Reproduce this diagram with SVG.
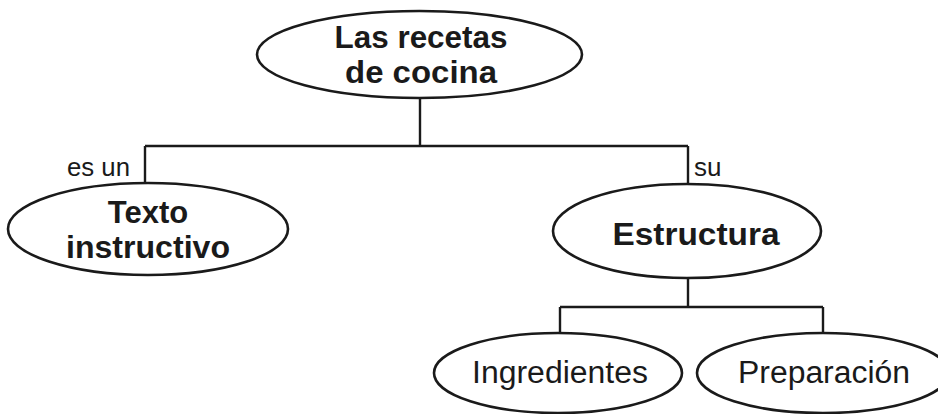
<svg xmlns="http://www.w3.org/2000/svg" width="938" height="414" viewBox="0 0 938 414">
<style>
.n{fill:#fff;stroke:#1a1a1a;stroke-width:2.6}
.c{fill:none;stroke:#1a1a1a;stroke-width:2.4}
.b{font-family:"Liberation Sans",Arial,sans-serif;font-weight:bold;font-size:31px;fill:#1a1a1a;text-anchor:middle}
.r{font-family:"Liberation Sans",Arial,sans-serif;font-size:31px;fill:#1a1a1a;text-anchor:middle}
.l{font-family:"Liberation Sans",Arial,sans-serif;font-size:26px;fill:#1a1a1a}
</style>
<rect width="938" height="414" fill="#fff"/>
<g id="connectors">
<path class="c" d="M420 98V146M145 146H688M145 146V184M688 146V184M688 277V307M560 307H823M560 307V334M823 307V334"/>
<text class="l" x="67" y="176" textLength="63" lengthAdjust="spacingAndGlyphs">es un</text>
<text class="l" x="694" y="176">su</text>
</g>
<g id="n-recetas">
<ellipse class="n" cx="419.5" cy="54.5" rx="162.5" ry="43.5"/>
<text class="b" x="421" y="48" textLength="173" lengthAdjust="spacingAndGlyphs">Las recetas</text>
<text class="b" x="421" y="83" textLength="152" lengthAdjust="spacingAndGlyphs">de cocina</text>
</g>
<g id="n-texto">
<ellipse class="n" cx="148" cy="229" rx="140" ry="46"/>
<text class="b" x="148" y="223">Texto</text>
<text class="b" x="148" y="258" textLength="164" lengthAdjust="spacingAndGlyphs">instructivo</text>
</g>
<g id="n-estructura">
<ellipse class="n" cx="687" cy="231" rx="134" ry="47"/>
<text class="b" x="696" y="245" textLength="167" lengthAdjust="spacingAndGlyphs">Estructura</text>
</g>
<g id="n-ingredientes">
<ellipse class="n" cx="558" cy="373" rx="124" ry="40"/>
<text class="r" x="560" y="383" textLength="176" lengthAdjust="spacingAndGlyphs">Ingredientes</text>
</g>
<g id="n-preparacion">
<ellipse class="n" cx="823" cy="373" rx="126" ry="40"/>
<text class="r" x="824" y="383" textLength="172" lengthAdjust="spacingAndGlyphs">Preparación</text>
</g>
</svg>
